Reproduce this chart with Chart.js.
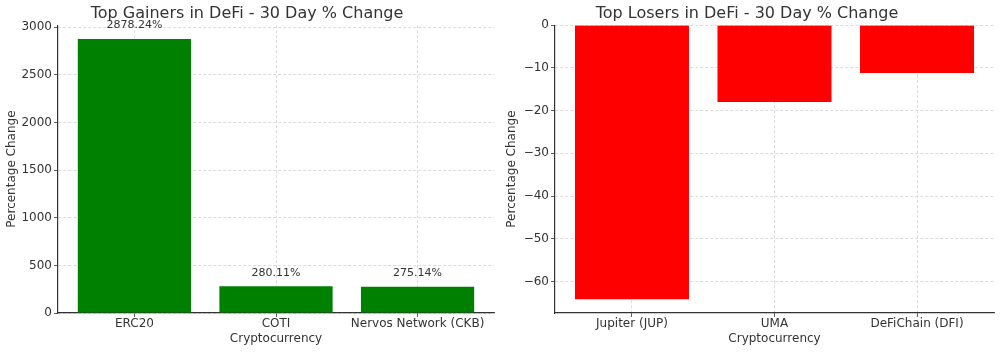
<!DOCTYPE html>
<html>
<head>
<meta charset="utf-8">
<script src="https://cdn.jsdelivr.net/npm/chart.js@4/dist/chart.umd.min.js"></script>
<style>
  html, body { margin: 0; padding: 0; background: #fff; }
  .row { display: flex; width: 1000px; height: 352px; }
  canvas { display: block; }
</style>
</head>
<body>
<div class="row">
  <canvas id="gainers" width="500" height="352"></canvas>
  <canvas id="losers" width="500" height="352"></canvas>
</div>
<script>
// data
const gainerNames = ["ERC20", "COTI", "Nervos Network (CKB)"];
const gainerValues = [2878.24, 280.11, 275.14];
const loserNames = ["Jupiter (JUP)", "UMA", "DeFiChain (DFI)"];
const loserValues = [-64.2, -18.0, -11.2];
const gainerTicks = [0, 500, 1000, 1500, 2000, 2500, 3000];
const loserTicks = [0, -10, -20, -30, -40, -50, -60];

const FONT = "'DejaVu Sans', sans-serif";
const TEXT = "#333333";
const GRID = "rgba(200,200,200,0.8)";

// value labels above the gainer bars
const barLabels = {
  id: "barLabels",
  afterDatasetsDraw(chart, args, opts) {
    if (!opts.show) return;
    const ctx = chart.ctx;
    const meta = chart.getDatasetMeta(0);
    ctx.save();
    ctx.font = "11px " + FONT;
    ctx.fillStyle = TEXT;
    ctx.textAlign = "center";
    ctx.textBaseline = "bottom";
    meta.data.forEach((bar, i) => {
      const v = chart.data.datasets[0].data[i].y;
      ctx.fillText(v.toFixed(2) + "%", bar.x, bar.y - 8);
    });
    ctx.restore();
  },
};

function makeChart(id, title, labels, values, color, yMin, yMax, ticks, leftWidth, showLabels) {
  const n = labels.length;
  return new Chart(document.getElementById(id).getContext("2d"), {
    type: "bar",
    data: {
      datasets: [
        {
          data: values.map((v, i) => ({ x: i, y: v })),
          backgroundColor: color,
          borderWidth: 0,
          barPercentage: 0.8,
          categoryPercentage: 1,
        },
      ],
    },
    plugins: [barLabels],
    options: {
      responsive: false,
      animation: false,
      devicePixelRatio: 1,
      layout: { padding: { left: 0, right: 6, top: 0, bottom: 0 } },
      plugins: {
        legend: { display: false },
        tooltip: { enabled: false },
        barLabels: { show: showLabels },
        title: {
          display: true,
          text: title,
          color: TEXT,
          font: { family: FONT, size: 16, weight: "normal" },
          padding: { top: 4, bottom: 2 },
        },
      },
      scales: {
        x: {
          type: "linear",
          z: 1,
          offset: false,
          min: -0.54,
          max: n - 1 + 0.54,
          afterBuildTicks: (s) => { s.ticks = labels.map((_, i) => ({ value: i })); },
          grid: {
            offset: false,
            color: GRID,
            lineWidth: 0.8,
            tickColor: TEXT,
            tickLength: 4,
            tickBorderDash: [],
          },
          border: { display: true, color: TEXT, width: 1.2, dash: [3, 2] },
          ticks: {
            color: TEXT,
            padding: 0,
            maxRotation: 0,
            autoSkip: false,
            font: { family: FONT, size: 12 },
            callback: (v) => labels[v],
          },
          title: {
            display: true,
            text: "Cryptocurrency",
            color: TEXT,
            font: { family: FONT, size: 12 },
            padding: { top: 0, bottom: 6 },
          },
          afterFit: (s) => { s.height = 39; },
        },
        y: {
          z: 1,
          min: yMin,
          max: yMax,
          afterBuildTicks: (s) => { s.ticks = ticks.map((v) => ({ value: v })); },
          grid: {
            color: GRID,
            lineWidth: 0.8,
            tickColor: TEXT,
            tickLength: 4,
            tickBorderDash: [],
          },
          border: { display: true, color: TEXT, width: 1.2, dash: [3, 2] },
          ticks: {
            color: TEXT,
            padding: 2,
            font: { family: FONT, size: 12 },
            callback: (v) => String(v).replace("-", "\u2212"),
          },
          title: {
            display: true,
            text: "Percentage Change",
            color: TEXT,
            font: { family: FONT, size: 12 },
            padding: { top: 5, bottom: 0 },
          },
          afterFit: (s) => { s.width = leftWidth; },
        },
      },
    },
  });
}

makeChart("gainers", "Top Gainers in DeFi - 30 Day % Change",
  gainerNames, gainerValues, "#008000", 0, 3022, gainerTicks, 58, true);
makeChart("losers", "Top Losers in DeFi - 30 Day % Change",
  loserNames, loserValues, "#ff0000", -67.4, 0, loserTicks, 55, false);
</script>
</body>
</html>
